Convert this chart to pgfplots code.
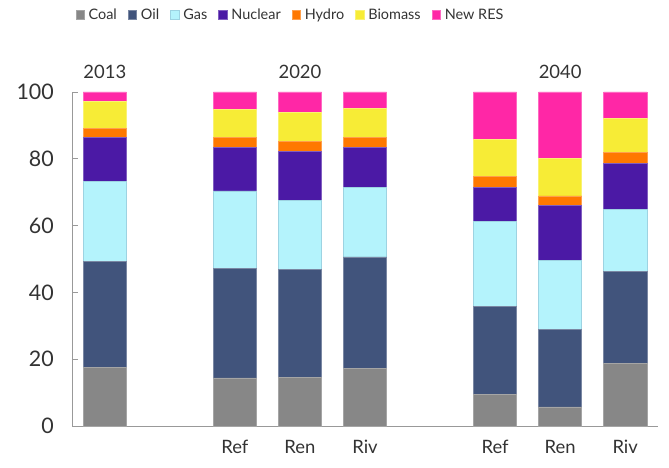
\documentclass[border=0pt]{standalone}
\usepackage{fontspec}
\setmainfont{Lato}
\usepackage{pgfplots}
\usepackage{pgfplotstable}
\pgfplotsset{compat=1.18}
\definecolor{cCoal}{HTML}{878787}
\definecolor{cOil}{HTML}{41547C}
\definecolor{cGas}{HTML}{B4F3FC}
\definecolor{cNuc}{HTML}{4B19A5}
\definecolor{cHyd}{HTML}{FF7800}
\definecolor{cBio}{HTML}{F7EC36}
\definecolor{cNew}{HTML}{FF27A6}
\definecolor{txt}{HTML}{333333}
\definecolor{axc}{HTML}{999999}
\pgfplotstableread{
x Coal Oil Gas Nuclear Hydro Biomass NewRES
0 17.5 31.7 24.1 13.0 2.8 8.2 2.7
2 14.4 32.8 23.2 12.9 3.0 8.5 5.2
3 14.6 32.4 20.5 14.6 3.2 8.6 6.1
4 17.2 33.4 20.9 12.0 3.0 8.7 4.8
6 9.4 26.4 25.5 10.1 3.3 11.2 14.1
7 5.7 23.2 20.6 16.6 2.8 11.1 20.0
8 18.7 27.7 18.5 13.8 3.1 10.3 7.9
}\datatable
\begin{document}
\begin{tikzpicture}
\path[use as bounding box] (-72.3bp,-42bp) rectangle (596.7bp,426bp);
\begin{axis}[
  scale only axis,
  width=585.4bp, height=334bp,
  ybar stacked,
  bar width=0.665,
  xmin=-0.5, xmax=8.5,
  ymin=0, ymax=100,
  clip=false,
  axis lines*=left,
  axis line style={axc, line width=0.8bp, -},
  xtick={2,3,4,6,7,8},
  xticklabels={Ref,Ren,Riv,Ref,Ren,Riv},
  x tick style={draw=none},
  major x tick style={draw=none},
  ytick={0,20,40,60,80,100},
  y tick style={axc, line width=0.8bp},
  tick align=inside,
  major tick length=5.7bp,
  /pgf/number format/assume math mode=true,
  yticklabel style={font=\fontsize{21.5}{25}\selectfont, text=txt, xshift=-15bp},
  xticklabel style={font=\fontsize{18.5}{22}\selectfont, text=txt, yshift=-11bp},
  legend columns=-1,
  legend style={draw=none, fill=none, at={(0.371,1.23)}, anchor=center,
    font=\fontsize{14.5}{17}\selectfont, text=txt,
    nodes={inner xsep=0pt},
    /tikz/every even column/.append style={column sep=11bp}},
  legend image code/.code={\fill[#1] (0bp,-4.5bp) rectangle (8.5bp,4.5bp); \path (12.5bp,0bp);},
]
\addplot[fill=cCoal, draw=cCoal!75!white, line width=0.6bp] table[x=x,y=Coal]{\datatable};
\addplot[fill=cOil, draw=cOil!70!white, line width=0.6bp] table[x=x,y=Oil]{\datatable};
\addplot[fill=cGas, draw=cGas!80!cOil, line width=0.6bp] table[x=x,y=Gas]{\datatable};
\addplot[fill=cNuc, draw=cNuc!70!white, line width=0.6bp] table[x=x,y=Nuclear]{\datatable};
\addplot[fill=cHyd, draw=cHyd!70!white, line width=0.6bp] table[x=x,y=Hydro]{\datatable};
\addplot[fill=cBio, draw=cBio!70!white, line width=0.6bp] table[x=x,y=Biomass]{\datatable};
\addplot[fill=cNew, draw=cNew!70!white, line width=0.6bp] table[x=x,y=NewRES]{\datatable};
\legend{Coal,Oil,Gas,Nuclear,Hydro,Biomass,New RES}
\node[text=txt, font=\fontsize{18.5}{22}\selectfont] at (axis cs:0,106.1) {2013};
\node[text=txt, font=\fontsize{18.5}{22}\selectfont] at (axis cs:3,106.1) {2020};
\node[text=txt, font=\fontsize{18.5}{22}\selectfont] at (axis cs:7,106.1) {2040};
\end{axis}
\end{tikzpicture}
\end{document}
